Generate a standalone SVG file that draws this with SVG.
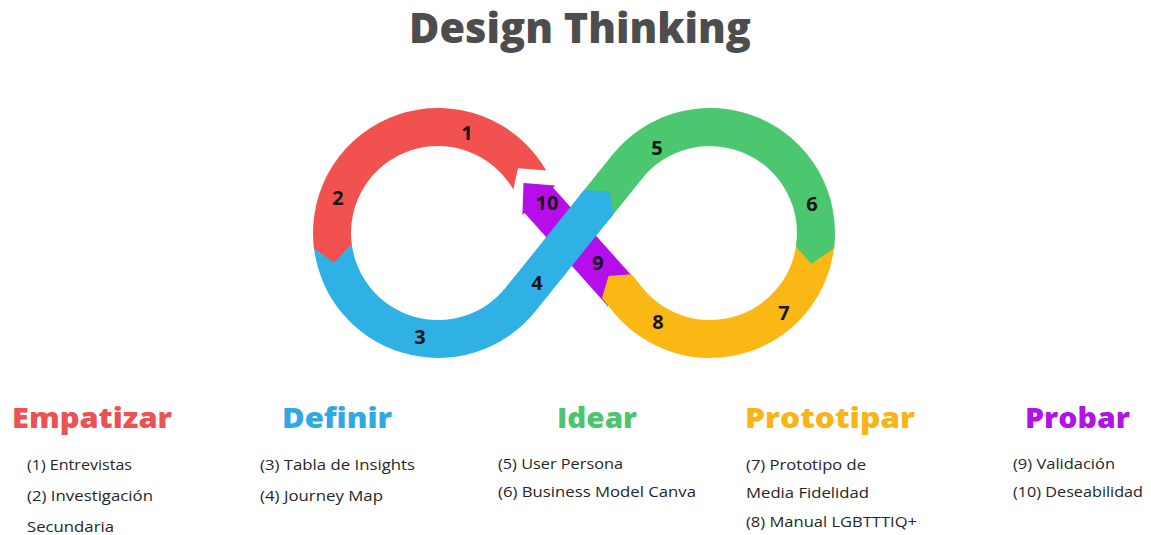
<svg xmlns="http://www.w3.org/2000/svg" width="1151" height="535" viewBox="0 0 1151 535">
<style>
.num{font-family:"Open Sans","Liberation Sans",sans-serif;font-weight:700;font-size:20px;fill:#151515;text-anchor:middle}
.hd{font-family:"Open Sans","Liberation Sans",sans-serif;font-weight:800;font-size:29px}
.it{font-family:"Open Sans","Liberation Sans",sans-serif;font-weight:400;font-size:15px;fill:#262626}
.title{font-family:"Open Sans","Liberation Sans",sans-serif;font-weight:800;font-size:42px;fill:#4d4d4d}
</style>
<rect width="1151" height="535" fill="#ffffff"/>
<text class="title" x="409" y="43" textLength="342" lengthAdjust="spacingAndGlyphs">Design Thinking</text>
<g id="connectors">
  <g id="seg-probar">
    <path d="M607.9 306.2 L636.3 280.8 L553.0 187.6 L555.2 185.6 L523.5 183.1 L522.4 215.0 L524.6 213.0 Z" fill="#B50EEA"/>
  </g>
  <g id="seg-prototipar">
    <path d="M834.5 243.9 A125 125 0 0 1 612.6 311.3 L602.0 298.1 L608.6 276.1 L631.6 274.3 L642.2 287.6 A87 87 0 0 0 796.7 240.6 Z" fill="#FBB814"/>
  </g>
  <g id="seg-idear">
    <path d="M579.7 195.6 L612.6 154.6 A125 125 0 0 1 834.1 248.2 L811.4 264.0 L795.9 246.6 A87 87 0 0 0 642.2 178.5 L609.3 219.4 Z" fill="#4BC86F"/>
  </g>
  <g id="seg-definir">
    <path d="M313.7 246.1 A125 125 0 0 0 535.4 311.3 L613.7 213.9 L609.5 191.5 L584.0 190.1 L505.8 287.6 A87 87 0 0 1 351.5 242.1 Z" fill="#2FB1E6"/>
  </g>
  <g id="seg-empatizar">
    <path d="M546.25 170.5 A125 125 0 0 0 313.93 248.23 L334.2 262.8 L351.65 243.6 A87 87 0 0 1 513.34 189.5 L518.0 168.2 Z" fill="#F2524F"/>
  </g>
</g>
<g id="numbers">
  <text class="num" x="467" y="140">1</text>
  <text class="num" x="338" y="205">2</text>
  <text class="num" x="420" y="344">3</text>
  <text class="num" x="537" y="290">4</text>
  <text class="num" x="657" y="155">5</text>
  <text class="num" x="812" y="211">6</text>
  <text class="num" x="784" y="320">7</text>
  <text class="num" x="658" y="329">8</text>
  <text class="num" x="598" y="270">9</text>
  <text class="num" x="547" y="210">10</text>
</g>
<g id="node-empatizar">
  <text class="hd" x="12" y="428" fill="#EC5252" textLength="160" lengthAdjust="spacingAndGlyphs">Empatizar</text>
  <text class="it" x="27" y="470" textLength="105" lengthAdjust="spacingAndGlyphs">(1) Entrevistas</text>
  <text class="it" x="27" y="501" textLength="126" lengthAdjust="spacingAndGlyphs">(2) Investigación</text>
  <text class="it" x="27" y="532" textLength="87" lengthAdjust="spacingAndGlyphs">Secundaria</text>
</g>
<g id="node-definir">
  <text class="hd" x="282" y="428" fill="#30A9E2" textLength="110" lengthAdjust="spacingAndGlyphs">Definir</text>
  <text class="it" x="260" y="470" textLength="155" lengthAdjust="spacingAndGlyphs">(3) Tabla de Insights</text>
  <text class="it" x="260" y="501" textLength="123" lengthAdjust="spacingAndGlyphs">(4) Journey Map</text>
</g>
<g id="node-idear">
  <text class="hd" x="557" y="428" fill="#4CC56F" textLength="80" lengthAdjust="spacingAndGlyphs">Idear</text>
  <text class="it" x="498" y="469" textLength="125" lengthAdjust="spacingAndGlyphs">(5) User Persona</text>
  <text class="it" x="498" y="497" textLength="198" lengthAdjust="spacingAndGlyphs">(6) Business Model Canva</text>
</g>
<g id="node-prototipar">
  <text class="hd" x="745" y="428" fill="#F9B517" textLength="170" lengthAdjust="spacingAndGlyphs">Prototipar</text>
  <text class="it" x="746" y="470" textLength="120" lengthAdjust="spacingAndGlyphs">(7) Prototipo de</text>
  <text class="it" x="746" y="498" textLength="123" lengthAdjust="spacingAndGlyphs">Media Fidelidad</text>
  <text class="it" x="746" y="527" textLength="171" lengthAdjust="spacingAndGlyphs">(8) Manual LGBTTTIQ+</text>
</g>
<g id="node-probar">
  <text class="hd" x="1025" y="428" fill="#B212E4" textLength="105" lengthAdjust="spacingAndGlyphs">Probar</text>
  <text class="it" x="1013" y="469" textLength="102" lengthAdjust="spacingAndGlyphs">(9) Validación</text>
  <text class="it" x="1013" y="497" textLength="130" lengthAdjust="spacingAndGlyphs">(10) Deseabilidad</text>
</g>
</svg>
